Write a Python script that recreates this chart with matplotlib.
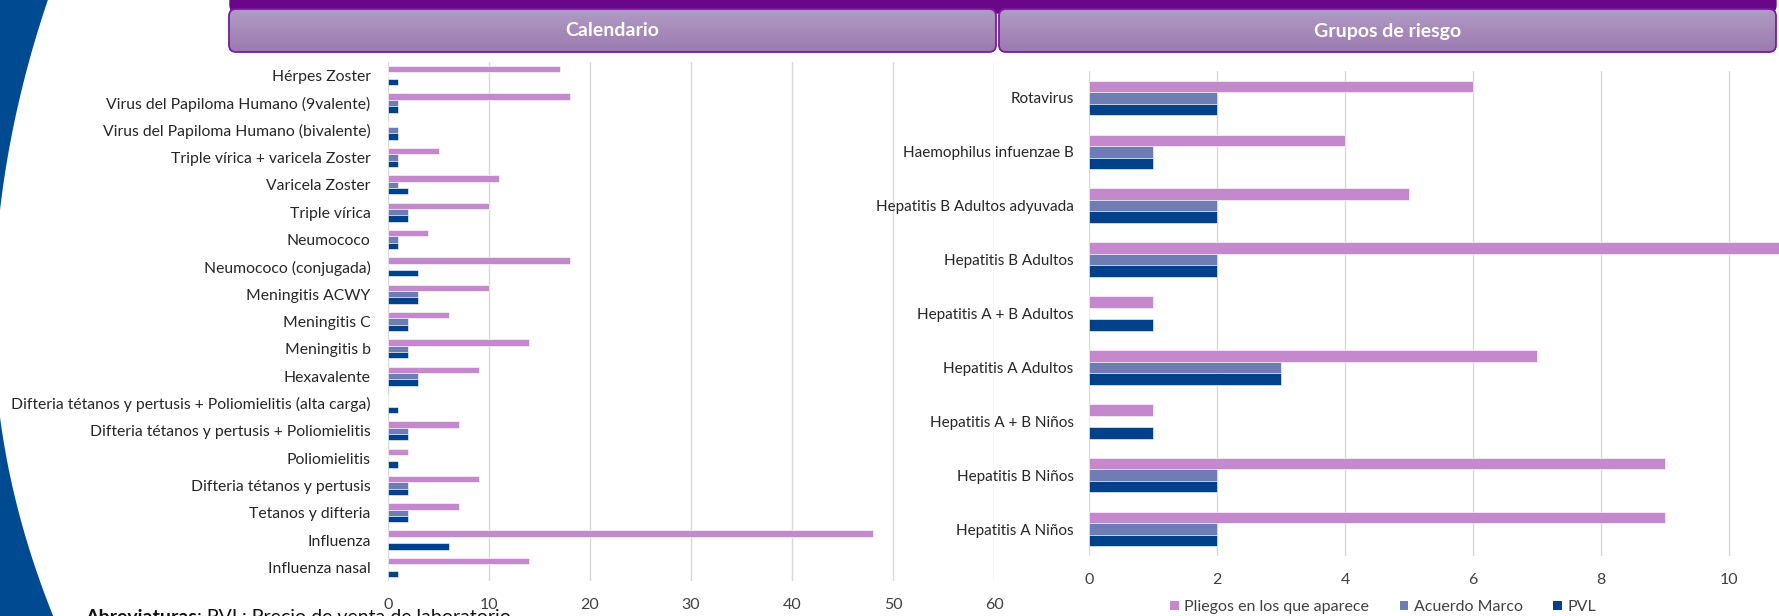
import numpy as np
import matplotlib
matplotlib.use("Agg")
import matplotlib.pyplot as plt
from matplotlib.patches import FancyBboxPatch, Patch
from matplotlib.colors import LinearSegmentedColormap

plt.rcParams['font.family'] = ['Lato', 'DejaVu Sans']

# ---------------- data ----------------
cal_categories = [
    "Hérpes Zoster",
    "Virus del Papiloma Humano (9valente)",
    "Virus del Papiloma Humano (bivalente)",
    "Triple vírica + varicela Zoster",
    "Varicela Zoster",
    "Triple vírica",
    "Neumococo",
    "Neumococo (conjugada)",
    "Meningitis ACWY",
    "Meningitis C",
    "Meningitis b",
    "Hexavalente",
    "Difteria tétanos y pertusis + Poliomielitis (alta carga)",
    "Difteria tétanos y pertusis + Poliomielitis",
    "Poliomielitis",
    "Difteria tétanos y pertusis",
    "Tetanos y difteria",
    "Influenza",
    "Influenza nasal",
]
cal_pliegos = [17, 18, 0, 5, 11, 10, 4, 18, 10, 6, 14, 9, 0, 7, 2, 9, 7, 48, 14]
cal_acuerdo = [0, 1, 1, 1, 1, 2, 1, 0, 3, 2, 2, 3, 0, 2, 0, 2, 2, 0, 0]
cal_pvl = [1, 1, 1, 1, 2, 2, 1, 3, 3, 2, 2, 3, 1, 2, 1, 2, 2, 6, 1]
cal_ticks = [0, 10, 20, 30, 40, 50, 60]

risk_categories = [
    "Rotavirus",
    "Haemophilus infuenzae B",
    "Hepatitis B Adultos adyuvada",
    "Hepatitis B Adultos",
    "Hepatitis A + B Adultos",
    "Hepatitis A Adultos",
    "Hepatitis A + B Niños",
    "Hepatitis B Niños",
    "Hepatitis A Niños",
]
risk_pliegos = [6, 4, 5, 11, 1, 7, 1, 9, 9]
risk_acuerdo = [2, 1, 2, 2, 0, 3, 0, 2, 2]
risk_pvl = [2, 1, 2, 2, 1, 3, 1, 2, 2]
risk_ticks = [0, 2, 4, 6, 8, 10, 12]

series_names = ["Pliegos en los que aparece", "Acuerdo Marco", "PVL"]
colors = ["#c389cc", "#6f7db5", "#00418a"]

title_left = "Calendario"
title_right = "Grupos de riesgo"
foot_bold = "Abreviaturas"
foot_rest = ": PVL: Precio de venta de laboratorio"

# ---------------- figure ----------------
W, H = 1779, 616
fig = plt.figure(figsize=(W / 100, H / 100), dpi=100)
fig.patch.set_facecolor("white")

def fx(px):
    return px / W

def fy(py):
    return 1 - py / H

# background / decoration axes in pixel coordinates
bg = fig.add_axes([0, 0, 1, 1], zorder=0)
bg.set_xlim(0, W)
bg.set_ylim(H, 0)
bg.axis("off")
bg.patch.set_alpha(0)

# blue swoosh at left
yy = np.linspace(0, H, 400)
coef = np.where(yy < 320, 5.3e-4, 6.8e-4)
xe = coef * (yy - 320) ** 2 - 6.4
bg.fill_betweenx(yy, 0, np.clip(xe, 0, None), color="#004a91", lw=0)

# header dark band
band = FancyBboxPatch((230, -30), 1546, 43, boxstyle="round,pad=0,rounding_size=8",
                      fc="#690788", ec="#690788", lw=1)
bg.add_patch(band)
grad = np.linspace(0, 1, 64).reshape(-1, 1)
hcmap = LinearSegmentedColormap.from_list("h", ["#b09cc4", "#9c7ab0"])
for (x0, x1, txt) in [(229, 996, title_left), (999, 1776, title_right)]:
    box = FancyBboxPatch((x0, 9), x1 - x0, 43, boxstyle="round,pad=0,rounding_size=7",
                         fc="none", ec="#7a1a9e", lw=1.3, zorder=3)
    bg.add_patch(box)
    im = bg.imshow(grad, extent=(x0, x1, 52, 9), cmap=hcmap, aspect="auto", zorder=2)
    im.set_clip_path(box)
    bg.text((x0 + x1) / 2, 31, txt, color="white", fontsize=14, fontweight="bold",
            ha="center", va="center", zorder=4)

# footnote (cut off at the bottom edge, as in the reference)
t1 = bg.text(85, 609, foot_bold, fontsize=14, fontweight="bold", color="#111111",
             ha="left", va="top", zorder=1)
bg.annotate(foot_rest, xy=(1, 1), xycoords=t1, fontsize=14, color="#111111",
            ha="left", va="top", zorder=1)

grid_c = "#d9d9d9"
label_c = "#262626"
tick_c = "#404040"

def draw(ax, cats, vals, group, ticks, xmax, lab_fs, ypad):
    n = len(cats)
    y = np.arange(n)
    bh = group / 3
    offs = [-bh, 0, bh]
    for v, c, o, name in zip(vals, colors, offs, series_names):
        ax.barh(y + o, v, height=bh, color=c, edgecolor="white", linewidth=0.4,
                label=name, zorder=2)
    ax.set_yticks(y)
    ax.set_yticklabels(cats, fontsize=lab_fs, color=label_c)
    ax.set_ylim(n - 0.5, -0.5)
    ax.set_xlim(0, xmax)
    ax.set_xticks(ticks)
    ax.set_xticklabels([str(t) for t in ticks], fontsize=11.5, color=tick_c)
    ax.tick_params(axis="both", length=0)
    ax.tick_params(axis="x", pad=12)
    ax.tick_params(axis="y", pad=ypad)
    ax.xaxis.grid(True, color=grid_c, lw=1, zorder=0)
    ax.set_axisbelow(True)
    for s in ax.spines.values():
        s.set_visible(False)
    ax.patch.set_alpha(0)

# left chart
axL = fig.add_axes([fx(388), fy(581), fx(994 - 388), (581 - 62) / H], zorder=1)
draw(axL, cal_categories, [cal_pliegos, cal_acuerdo, cal_pvl], 0.70, cal_ticks, 60, 11.3, 12.5)

# right chart (extends past the figure edge)
axR = fig.add_axes([fx(1089), fy(556), fx(64 * 12), (556 - 71) / H], zorder=1)
draw(axR, risk_categories, [risk_pliegos, risk_acuerdo, risk_pvl], 0.64, risk_ticks, 12, 11, 11)

# legend
handles = [Patch(facecolor=c, edgecolor="none") for c in colors]
fig.legend(handles, series_names, loc="center left", bbox_to_anchor=(fx(1170), fy(607)),
           ncol=3, frameon=False, fontsize=11.5, handlelength=0.55, handleheight=0.55,
           handletextpad=0.35, columnspacing=1.9, borderpad=0, borderaxespad=0,
           labelcolor=tick_c)

fig.savefig("out.png", dpi=100)
